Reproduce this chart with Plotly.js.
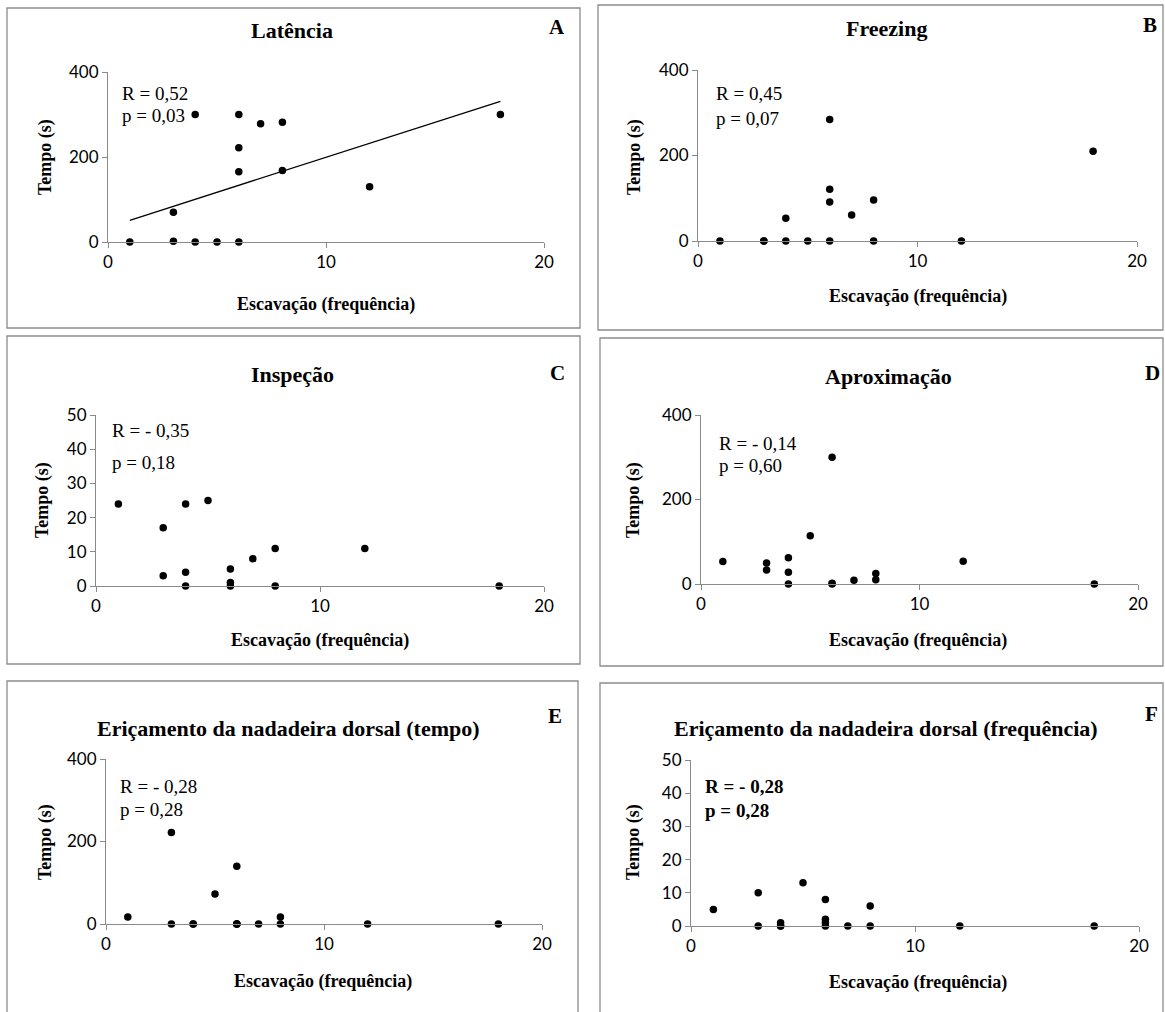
<!DOCTYPE html>
<html>
<head>
<meta charset="utf-8">
<script src="https://cdn.plot.ly/plotly-3.0.1.min.js"></script>
<style>
  html, body { margin: 0; padding: 0; background: #ffffff; }
  #chart { width: 1165px; height: 1012px; }
</style>
</head>
<body>
<div id="chart"></div>
<script>
// ---------------- DATA ----------------
const panelTitles = ["Latência", "Freezing", "Inspeção", "Aproximação",
  "Eriçamento da nadadeira dorsal (tempo)", "Eriçamento da nadadeira dorsal (frequência)"];
const panelLetters = ["A", "B", "C", "D", "E", "F"];
const statsR = ["R = 0,52", "R = 0,45", "R = - 0,35", "R = - 0,14", "R = - 0,28", "R = - 0,28"];
const statsP = ["p = 0,03", "p = 0,07", "p = 0,18", "p = 0,60", "p = 0,28", "p = 0,28"];
const xAxisLabel = "Escavação (frequência)";
const yAxisLabel = "Tempo (s)";

const xTicks = [0, 10, 20];
const yTicks400 = [0, 200, 400];
const yTicks50 = [0, 10, 20, 30, 40, 50];

// A - Latência
const escavacaoA = [1, 3, 3, 4, 4, 5, 6, 6, 6, 6, 7, 8, 8, 12, 18];
const tempoA = [0, 2, 70, 0, 300, 0, 0, 165, 222, 300, 278, 282, 168, 130, 300];
const trendXA = [1, 18];
const trendYA = [51, 331];
// B - Freezing
const escavacaoB = [1, 3, 3, 4, 4, 5, 6, 6, 6, 6, 7, 8, 8, 12, 18];
const tempoB = [0, 0, 0, 0, 53, 0, 0, 91, 121, 284, 61, 0, 96, 0, 210];
// C - Inspeção
const escavacaoC = [1, 3, 3, 4, 4, 4, 5, 6, 6, 6, 7, 8, 8, 12, 18];
const tempoC = [24, 17, 3, 24, 4, 0, 25, 5, 1, 0, 8, 11, 0, 11, 0];
// D - Aproximação
const escavacaoD = [1, 3, 3, 4, 4, 4, 5, 6, 6, 6, 7, 8, 8, 12, 18];
const tempoD = [53, 50, 33, 62, 28, 0, 114, 300, 2, 0, 9, 25, 10, 54, 0];
// E - Eriçamento (tempo)
const escavacaoE = [1, 3, 3, 4, 4, 5, 6, 6, 6, 6, 7, 8, 8, 12, 18];
const tempoE = [17, 222, 0, 0, 0, 73, 140, 0, 0, 0, 0, 17, 0, 0, 0];
// F - Eriçamento (frequência)
const escavacaoF = [1, 3, 3, 4, 4, 4, 5, 6, 6, 6, 6, 7, 8, 8, 12, 18];
const tempoF = [5, 10, 0, 1, 0, 0, 13, 8, 2, 1, 0, 0, 6, 0, 0, 0];

// ---------------- LAYOUT HELPERS ----------------
const W = 1165, H = 1012;
const px = v => v / W;
const py = v => 1 - v / H;

const seriesX = [escavacaoA, escavacaoB, escavacaoC, escavacaoD, escavacaoE, escavacaoF];
const seriesY = [tempoA, tempoB, tempoC, tempoD, tempoE, tempoF];
const yTickSets = [yTicks400, yTicks400, yTicks50, yTicks400, yTicks400, yTicks50];

// plot area pixel boxes [left, right, top, bottom]
const plotBoxes = [
  [108, 544, 72, 242],
  [698, 1137, 70, 241],
  [96, 544, 415, 586],
  [701, 1138, 415, 584],
  [106, 542, 759, 924],
  [691, 1139, 760, 926]
];
// panel frames [x0, y0, x1, y1]
const frames = [
  [7, 8, 580, 328],
  [598, 5, 1163, 330],
  [7, 336, 580, 664],
  [600, 338, 1163, 666],
  [7, 681, 578, 1013],
  [600, 683, 1163, 1013]
];
// text positions
const titlePos = [[292, 30], [886, 29], [292, 375], [888, 376], [288, 728], [886, 728]];
const letterPos = [[557, 27], [1150, 25], [557, 373], [1152, 373], [555, 716], [1151, 714]];
const yTitlePos = [[45, 157], [634, 157], [42, 500], [633, 500], [45, 842], [633, 842]];
const xTitlePos = [[326, 304], [918, 297], [320, 640], [918, 640], [323, 981], [918, 982]];
const statPos = [[120, 93, 115], [714, 93, 119], [110, 430, 462], [717, 443, 465], [118, 786, 809], [703, 786, 810]];

const serif = "Liberation Serif, 'Times New Roman', serif";
const sans = "Lato, Carlito, Calibri, sans-serif";
const axisGrey = "#8a8a8a";

const traces = [];
const layout = {
  width: W, height: H,
  margin: { l: 0, r: 0, t: 0, b: 0 },
  paper_bgcolor: "#ffffff",
  plot_bgcolor: "rgba(0,0,0,0)",
  showlegend: false,
  shapes: [],
  annotations: []
};

for (let i = 0; i < 6; i++) {
  const n = i + 1;
  const xa = n === 1 ? "x" : "x" + n;
  const ya = n === 1 ? "y" : "y" + n;
  const xk = n === 1 ? "xaxis" : "xaxis" + n;
  const yk = n === 1 ? "yaxis" : "yaxis" + n;
  const b = plotBoxes[i];
  const yt = yTickSets[i];

  layout[xk] = {
    domain: [px(b[0]), px(b[1])],
    anchor: ya,
    range: [xTicks[0], xTicks[xTicks.length - 1]],
    tickvals: xTicks,
    ticktext: xTicks.map(String),
    showgrid: false, zeroline: false,
    showline: true, linecolor: axisGrey, linewidth: 1,
    ticks: "outside", ticklen: 5, tickcolor: axisGrey, tickwidth: 1,
    tickfont: { family: sans, size: 17, color: "#000" },
    fixedrange: true
  };
  layout[yk] = {
    domain: [py(b[3]), py(b[2])],
    anchor: xa,
    range: [yt[0], yt[yt.length - 1]],
    tickvals: yt,
    ticktext: yt.map(String),
    showgrid: false, zeroline: false,
    showline: true, linecolor: axisGrey, linewidth: 1,
    ticks: "outside", ticklen: 5, tickcolor: axisGrey, tickwidth: 1,
    tickfont: { family: sans, size: 17, color: "#000" },
    fixedrange: true
  };

  traces.push({
    type: "scatter", mode: "markers",
    x: seriesX[i], y: seriesY[i],
    xaxis: xa, yaxis: ya,
    marker: { color: "#000", size: 7.5 },
    cliponaxis: false,
    hoverinfo: "x+y"
  });

  const f = frames[i];
  layout.shapes.push({
    type: "rect", xref: "paper", yref: "paper",
    x0: px(f[0]), x1: px(f[2]), y0: py(f[3]), y1: py(f[1]),
    line: { color: "#8c8c8c", width: 1.3 }, fillcolor: "rgba(0,0,0,0)", layer: "below"
  });

  layout.annotations.push({
    xref: "paper", yref: "paper", x: px(titlePos[i][0]), y: py(titlePos[i][1]),
    xanchor: "center", yanchor: "middle", showarrow: false,
    text: "<b>" + panelTitles[i] + "</b>",
    font: { family: serif, size: 22, color: "#000" }
  });
  layout.annotations.push({
    xref: "paper", yref: "paper", x: px(letterPos[i][0]), y: py(letterPos[i][1]),
    xanchor: "center", yanchor: "middle", showarrow: false,
    text: "<b>" + panelLetters[i] + "</b>",
    font: { family: serif, size: 21, color: "#000" }
  });
  layout.annotations.push({
    xref: "paper", yref: "paper", x: px(yTitlePos[i][0]), y: py(yTitlePos[i][1]),
    xanchor: "center", yanchor: "middle", showarrow: false, textangle: -90,
    text: "<b>" + yAxisLabel + "</b>",
    font: { family: serif, size: 18, color: "#000" }
  });
  layout.annotations.push({
    xref: "paper", yref: "paper", x: px(xTitlePos[i][0]), y: py(xTitlePos[i][1]),
    xanchor: "center", yanchor: "middle", showarrow: false,
    text: "<b>" + xAxisLabel + "</b>",
    font: { family: serif, size: 18, color: "#000" }
  });
  const bold = i === 5;
  const sp = statPos[i];
  layout.annotations.push({
    xref: "paper", yref: "paper", x: px(sp[0]), y: py(sp[1]),
    xanchor: "left", yanchor: "middle", showarrow: false,
    text: bold ? "<b>" + statsR[i] + "</b>" : statsR[i],
    font: { family: serif, size: 19, color: "#000" }
  });
  layout.annotations.push({
    xref: "paper", yref: "paper", x: px(sp[0]), y: py(sp[2]),
    xanchor: "left", yanchor: "middle", showarrow: false,
    text: bold ? "<b>" + statsP[i] + "</b>" : statsP[i],
    font: { family: serif, size: 19, color: "#000" }
  });
}

// trend line in panel A
traces.push({
  type: "scatter", mode: "lines",
  x: trendXA, y: trendYA, xaxis: "x", yaxis: "y",
  line: { color: "#000", width: 1.3 },
  hoverinfo: "skip", cliponaxis: false
});

Plotly.newPlot("chart", traces, layout, { displayModeBar: false, staticPlot: true });
</script>
</body>
</html>
